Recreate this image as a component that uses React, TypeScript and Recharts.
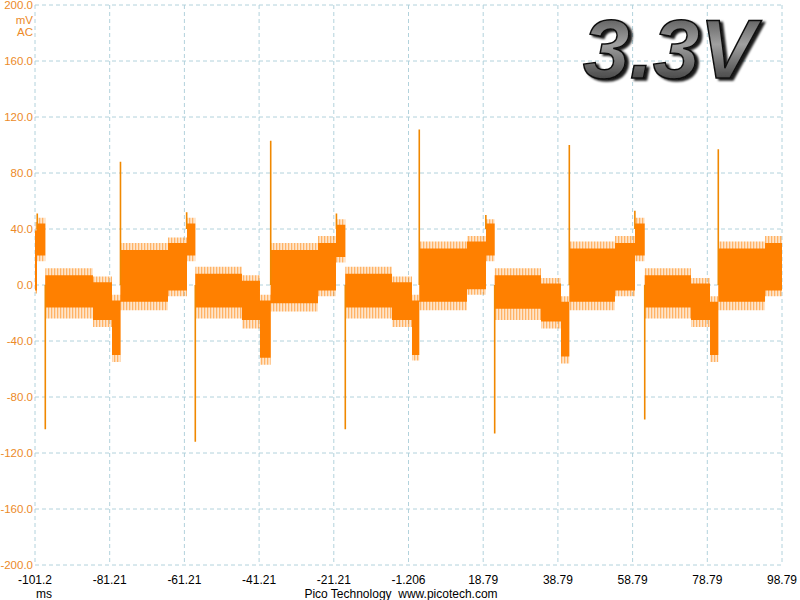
import { Area, CartesianGrid, ComposedChart, Line, XAxis, YAxis } from "recharts";

// time (ms) where the trace changes level, one more than the number of segments
const segEdges = [
  -101.206, -100.67, -98.45, -85.68, -80.59, -78.32, -65.6, -60.51, -58.29, -45.79, -40.97,
  -38.1, -25.44, -20.62, -18.13, -5.63, -0.27, 1.68, 14.45, 19.54, 21.87, 34.27, 39.62, 41.85,
  54.08, 59.44, 62.04, 74.43, 79.52, 81.74, 94.25, 98.794,
];

// dense part of the noise band (mV)
const coreHigh = [
  39, 44,
  7, 2, -11, 25, 30, 44,
  8, 3, -11, 25, 30, 43,
  8, 2, -11, 26, 31, 44,
  7, 1, -12, 26, 30, 44,
  7, 1, -12, 26, 30,
];
const coreLow = [
  -4, 21,
  -16, -25, -50, -12, -4, 21,
  -16, -25, -52, -13, -4, 20,
  -16, -25, -50, -12, -3, 21,
  -17, -26, -51, -12, -4, 21,
  -16, -25, -50, -12, -4,
];
// outer ragged edge of the band (mV)
const envHigh = [
  45, 48,
  12, 6, -7, 30, 34, 48,
  13, 7, -7, 30, 35, 47,
  13, 6, -7, 31, 35, 47,
  12, 5, -8, 31, 35, 48,
  12, 5, -8, 31, 35,
];
const envLow = [
  -6, 17,
  -24, -30, -55, -18, -8, 17,
  -24, -31, -57, -19, -8, 16,
  -24, -30, -54, -18, -7, 17,
  -25, -31, -56, -18, -8, 17,
  -24, -30, -55, -18, -8,
];

// single-sample glitches
const spikeTimes = [-98.45, -78.32, -58.29, -38.1, -18.13, 1.68, 21.87, 41.85, 62.04, 81.74,
  -100.6, -60.6, -20.5, 19.5, 59.4];
const spikePeaks = [-103, 88, -112, 103, -103, 111, -106, 100, -96, 97,
  51, 52, 51, 50, 53];

const yTicks = [200, 160, 120, 80, 40, 0, -40, -80, -120, -160, -200];
const yTickLabels = ["200.0", "160.0", "120.0", "80.0", "40.0", "0.0", "-40.0", "-80.0", "-120.0", "-160.0", "-200.0"];
const xTicks = [-101.206, -81.206, -61.206, -41.206, -21.206, -1.206, 18.794, 38.794, 58.794, 78.794, 98.794];
const xTickLabels = ["-101.2", "-81.21", "-61.21", "-41.21", "-21.21", "-1.206", "18.79", "38.79", "58.79", "78.79", "98.79"];

const ORANGE = "#ff8000";
const LABEL_ORANGE = "#ec8a28";
const FONT = "'Liberation Sans', Arial, sans-serif";

const bandData = segEdges.slice(0, -1).flatMap((t, i) => [
  { t, core: [coreLow[i], coreHigh[i]], env: [envLow[i], envHigh[i]] },
  { t: segEdges[i + 1], core: [coreLow[i], coreHigh[i]], env: [envLow[i], envHigh[i]] },
]);

const spikeData = spikeTimes.flatMap((t, i) => [
  { t, v: spikePeaks[i] > 0 && spikePeaks[i] < 60 ? 40 : 0 },
  { t, v: spikePeaks[i] },
  { t, v: null },
]);

const YTick = ({ y, payload }: any) => {
  const i = yTicks.indexOf(payload.value);
  return (
    <g>
      <text x={33} y={y + 4} textAnchor="end" fontSize={11.5} fill={LABEL_ORANGE} fontFamily={FONT}>
        {yTickLabels[i]}
      </text>
      {payload.value === 200 && (
        <>
          <text x={33} y={y + 19} textAnchor="end" fontSize={11.5} fill={LABEL_ORANGE} fontFamily={FONT}>mV</text>
          <text x={33} y={y + 31} textAnchor="end" fontSize={11.5} fill={LABEL_ORANGE} fontFamily={FONT}>AC</text>
        </>
      )}
    </g>
  );
};

const XTick = ({ x, payload }: any) => {
  const i = xTicks.indexOf(payload.value);
  return (
    <text x={x} y={584} textAnchor="middle" fontSize={12} fill="#000" fontFamily={FONT}>
      {xTickLabels[i]}
    </text>
  );
};

export default function App() {
  return (
    <div style={{ position: "absolute", left: 0, top: 0, width: 800, height: 600, background: "#fff" }}>
      <ComposedChart
        width={800}
        height={600}
        data={bandData}
        margin={{ top: 5, right: 18, bottom: 0, left: 0 }}
      >
        <defs>
          {/* thin vertical strokes to mimic the ragged noise edge */}
          <pattern id="noise" width={3} height={6} patternUnits="userSpaceOnUse">
            <rect x={0} y={0} width={1.4} height={6} fill={ORANGE} />
            <rect x={1.4} y={0} width={1.6} height={6} fill={ORANGE} fillOpacity={0.35} />
          </pattern>
        </defs>
        <CartesianGrid stroke="#b2d2dc" strokeDasharray="4 3" horizontal vertical />
        <XAxis
          dataKey="t"
          type="number"
          domain={[-101.206, 98.794]}
          ticks={xTicks}
          height={35}
          axisLine={false}
          tickLine={false}
          tick={<XTick />}
          interval={0}
        />
        <YAxis
          type="number"
          domain={[-200, 200]}
          ticks={yTicks}
          width={35}
          axisLine={false}
          tickLine={false}
          tick={<YTick />}
          interval={0}
        />
        <Area dataKey="env" type="linear" stroke="none" fill="url(#noise)" isAnimationActive={false} />
        <Area dataKey="core" type="linear" stroke="none" fill={ORANGE} fillOpacity={1} isAnimationActive={false} />
        <Line
          data={spikeData}
          dataKey="v"
          type="linear"
          stroke="#f08800"
          strokeWidth={1.6}
          dot={false}
          activeDot={false}
          connectNulls={false}
          isAnimationActive={false}
        />
      </ComposedChart>
      <svg width={800} height={600} style={{ position: "absolute", left: 0, top: 0, pointerEvents: "none" }}>
        <defs>
          <linearGradient id="chrome" x1="0" y1="0" x2="0" y2="1">
            <stop offset="0%" stopColor="#3a3a3a" />
            <stop offset="45%" stopColor="#a0a0a0" />
            <stop offset="100%" stopColor="#1e1e1e" />
          </linearGradient>
          <filter id="shadow" x="-10%" y="-10%" width="120%" height="130%">
            <feDropShadow dx={3} dy={2} stdDeviation={1} floodColor="#000" floodOpacity={0.9} />
          </filter>
        </defs>
        <text x={583} y={78} fontSize={84} fontWeight="bold" fontStyle="italic" fontFamily={FONT}
          fill="url(#chrome)" stroke="#111" strokeWidth={1.5} filter="url(#shadow)">
          3.3V
        </text>
        <text x={36} y={598} fontSize={12} fontFamily={FONT} fill="#000">ms</text>
        <text x={401} y={598} textAnchor="middle" fontSize={12} fontFamily={FONT} fill="#000" xmlSpace="preserve">
          Pico Technology  www.picotech.com
        </text>
      </svg>
    </div>
  );
}
